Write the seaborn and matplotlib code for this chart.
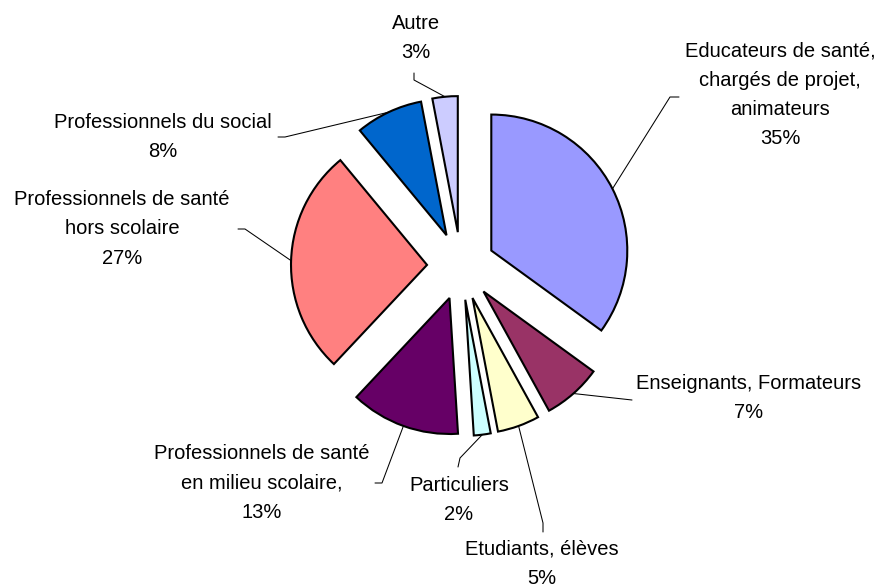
import numpy as np
import matplotlib
matplotlib.use("Agg")
import matplotlib.pyplot as plt
import seaborn as sns

# Data
categories = [
    "Educateurs de santé,\nchargés de projet,\nanimateurs",
    "Enseignants, Formateurs",
    "Etudiants, élèves",
    "Particuliers",
    "Professionnels de santé\nen milieu scolaire,",
    "Professionnels de santé\nhors scolaire",
    "Professionnels du social",
    "Autre",
]
values = [35, 7, 5, 2, 13, 27, 8, 3]
colors = ["#9999FF", "#993366", "#FFFFCC", "#CCFFFF",
          "#660066", "#FF8080", "#0066CC", "#CCCCFF"]

# Layout (pixels in the 880x584 picture)
W, H = 880, 584
CX, CY, R = 461, 266, 136
label_pos = [(780, 95), (749, 398), (542, 564), (459, 500),
             (262, 483), (122, 229), (163, 137), (416, 38)]
leader_pts = [[(679, 97), (670, 97)],
              [(632, 400)],
              [(543, 532), (543, 523)],
              [(458, 467), (460, 458)],
              [(375, 483), (382, 483)],
              [(238, 229), (245, 229)],
              [(278, 137), (285, 137)],
              [(414, 73), (414, 80)]]

sns.set_theme(style="white")
plt.rcParams["font.family"] = ["Liberation Sans", "DejaVu Sans"]


def px(x, y):
    return (x - CX) / R, (CY - y) / R


fig = plt.figure(figsize=(W / 100, H / 100), dpi=100)
ax = fig.add_axes([0, 0, 1, 1])

wedges, _ = ax.pie(values, colors=colors, startangle=90, counterclock=False,
                   explode=[0.25] * len(values), radius=1,
                   wedgeprops=dict(edgecolor="black", linewidth=1.5))

ax.set_xlim(-CX / R, (W - CX) / R)
ax.set_ylim(-(H - CY) / R, CY / R)
ax.axis("off")

for w, name, val, (tx, ty), pts in zip(wedges, categories, values, label_pos, leader_pts):
    mid = np.deg2rad((w.theta1 + w.theta2) / 2)
    ax_x = w.center[0] + w.r * np.cos(mid)
    ax_y = w.center[1] + w.r * np.sin(mid)
    line = [px(*p) for p in pts] + [(ax_x, ax_y)]
    ax.plot([p[0] for p in line], [p[1] for p in line], color="black", lw=0.75)
    x, y = px(tx, ty)
    ax.text(x, y, f"{name}\n{val}%", ha="center", va="center",
            multialignment="center", fontsize=14.5, linespacing=1.68, color="black")

fig.savefig("out.png", dpi=100)
